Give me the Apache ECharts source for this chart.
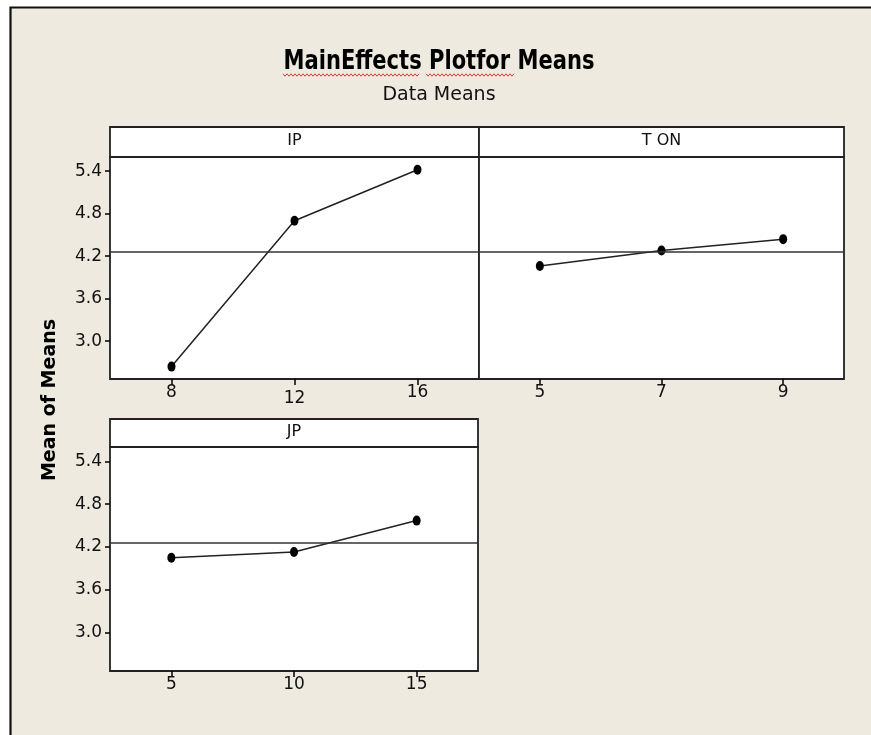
<!DOCTYPE html>
<html>
<head>
<meta charset="utf-8">
<script src="https://cdn.jsdelivr.net/npm/echarts@6/dist/echarts.min.js"></script>
<style>
html,body{margin:0;padding:0;background:#fff;}
#chart{width:871px;height:735px;}
</style>
</head>
<body>
<div id="chart"></div>
<script>
// ---- data ----
const titleText = 'MainEffects Plotfor Means';
const subtitleText = 'Data Means';
const yAxisTitle = 'Mean of Means';
const panelNames = ['IP', 'T ON', 'JP'];
const ipLevels = [8, 12, 16];
const ipMeans = [2.64, 4.70, 5.42];
const tonLevels = [5, 7, 9];
const tonMeans = [4.06, 4.28, 4.44];
const jpLevels = [5, 10, 15];
const jpMeans = [4.05, 4.13, 4.57];
const grandMean = 4.26;
const yTicks = [3.0, 3.6, 4.2, 4.8, 5.4];
const yRange = [2.465, 5.6];
const ipRange = [6, 18];
const tonRange = [4, 10];
const jpRange = [2.5, 17.5];

const FONT = '"DejaVu Sans", Verdana, sans-serif';
const TXT = '#111';
const BG = '#EEEAE0';

const panels = [
  { left: 110, top: 157, width: 369, height: 222, hdrTop: 127, hdrH: 30, levels: ipLevels, means: ipMeans, range: ipRange, showY: true, stagger: true },
  { left: 479, top: 157, width: 365, height: 222, hdrTop: 127, hdrH: 30, levels: tonLevels, means: tonMeans, range: tonRange, showY: false, stagger: false },
  { left: 110, top: 447, width: 368, height: 224, hdrTop: 419, hdrH: 28, levels: jpLevels, means: jpMeans, range: jpRange, showY: true, stagger: false }
];

const chart = echarts.init(document.getElementById('chart'), null, { renderer: 'canvas' });

const grids = [], xAxes = [], yAxes = [], series = [], graphics = [];

// outer frame
graphics.push({
  type: 'rect', z: -10, silent: true,
  shape: { x: 10.5, y: 7.5, width: 900, height: 800 },
  style: { fill: BG, stroke: '#111', lineWidth: 2.2 }
});

panels.forEach((p, i) => {
  grids.push({
    left: p.left, top: p.top, width: p.width, height: p.height,
    show: true, backgroundColor: '#fff', borderColor: '#222', borderWidth: 1.8
  });
  const vals = p.levels;
  xAxes.push({
    type: 'value', gridIndex: i, min: p.range[0], max: p.range[1],
    axisLine: { show: false },
    splitLine: { show: false },
    axisTick: { show: true, length: 6, customValues: vals, lineStyle: { color: '#000', width: 1.5 } },
    axisLabel: {
      show: true, customValues: vals, margin: 5,
      color: TXT, fontFamily: FONT, fontSize: 17,
      formatter: function (v) {
        const idx = vals.indexOf(v);
        if (p.stagger && idx === 1) return '{lo|' + v + '}';
        return '{n|' + v + '}';
      },
      rich: {
        n: { color: TXT, fontFamily: FONT, fontSize: 17 },
        lo: { color: TXT, fontFamily: FONT, fontSize: 17, padding: [6, 0, 0, 0] }
      }
    }
  });
  yAxes.push({
    type: 'value', gridIndex: i, min: yRange[0], max: yRange[1],
    axisLine: { show: false },
    splitLine: { show: false },
    axisTick: { show: p.showY, length: 5, customValues: yTicks, lineStyle: { color: '#000', width: 1.5 } },
    axisLabel: {
      show: p.showY, customValues: yTicks, margin: 8,
      color: TXT, fontFamily: FONT, fontSize: 17,
      formatter: v => v.toFixed(1)
    }
  });
  series.push({
    type: 'line', xAxisIndex: i, yAxisIndex: i,
    data: p.levels.map((x, k) => [x, p.means[k]]),
    symbol: 'circle', symbolSize: [8, 10],
    itemStyle: { color: '#000' },
    lineStyle: { color: '#222', width: 1.5 },
    animation: false,
    markLine: {
      silent: true, symbol: 'none', animation: false,
      label: { show: false },
      lineStyle: { color: '#333', width: 1.5, type: 'solid' },
      data: [{ yAxis: grandMean }]
    }
  });
  // header strip
  graphics.push({
    type: 'rect', silent: true, z: 5,
    shape: { x: p.left, y: p.hdrTop, width: p.width, height: p.hdrH },
    style: { fill: '#fff', stroke: '#222', lineWidth: 1.8 }
  });
  graphics.push({
    type: 'text', silent: true, z: 6,
    x: p.left + p.width / 2, y: p.hdrTop + p.hdrH / 2 - 1,
    style: { text: panelNames[i], fill: TXT, font: '16px ' + FONT, align: 'center', verticalAlign: 'middle' }
  });
});

// titles
graphics.push({
  type: 'text', silent: true, z: 6, x: 439, y: 62, scaleX: 0.9,
  style: { text: titleText, fill: '#000', font: 'bold 26px "Liberation Sans Narrow", "DejaVu Sans Condensed", sans-serif', align: 'center', verticalAlign: 'middle' }
});
graphics.push({
  type: 'text', silent: true, z: 6, x: 439, y: 95,
  style: { text: subtitleText, fill: TXT, font: '19px ' + FONT, align: 'center', verticalAlign: 'middle' }
});
// spell-check squiggle under the first words of the title
function squiggle(x0, x1, y) {
  const pts = [];
  let up = true;
  for (let x = x0; x <= x1; x += 2) { pts.push([x, up ? y - 1.2 : y + 1.2]); up = !up; }
  return pts;
}
graphics.push({ type: 'polyline', silent: true, z: 6, shape: { points: squiggle(283, 420, 75) }, style: { stroke: '#e23b3b', lineWidth: 1, fill: null } });
graphics.push({ type: 'polyline', silent: true, z: 6, shape: { points: squiggle(426, 515, 75) }, style: { stroke: '#e23b3b', lineWidth: 1, fill: null } });
// y-axis title
graphics.push({
  type: 'text', silent: true, z: 6, x: 50, y: 400, rotation: Math.PI / 2,
  style: { text: yAxisTitle, fill: '#000', font: 'bold 19px ' + FONT, align: 'center', verticalAlign: 'middle' }
});

chart.setOption({
  backgroundColor: '#fff',
  animation: false,
  grid: grids,
  xAxis: xAxes,
  yAxis: yAxes,
  series: series,
  graphic: graphics
});
</script>
</body>
</html>
